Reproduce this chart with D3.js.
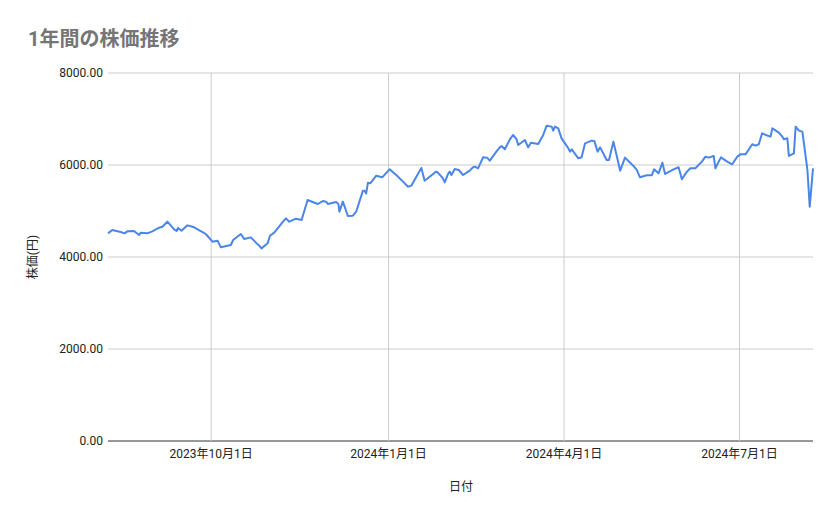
<!DOCTYPE html><html><head><meta charset="utf-8"><script src="https://cdn.jsdelivr.net/npm/d3@7"></script>
<style>body{margin:0;background:#fff}text{font-family:Roboto,"Noto Sans CJK JP",sans-serif}</style></head><body><svg id="c" width="839" height="519"></svg><script>
// days offset from 2023-10-01
const days=[-53.5,-51.3,-46.9,-44.9,-43.5,-40,-37.4,-36.5,-33.1,-30.5,-27,-25.3,-22.7,-19.2,-17.9,-17.2,-15.4,-12.3,-8.8,-4.5,-2.8,0.7,3.3,5,10.2,11.4,15.4,17.1,20.6,24.1,25.1,26.1,29.3,30.5,32.7,37.9,38.8,40.5,44,46.9,50,55.3,57.9,59.6,60.5,64.8,66,66.5,68.3,70.9,73.5,75.2,78.7,79.5,80.4,81.3,82.5,85.6,88.7,92.5,96,99.5,101.2,102,103.8,106.4,109,110.7,113.3,115.9,116.8,117.6,120.2,121.1,122.8,123.7,124.6,
126.3,128.4,130.6,134.1,135.8,136.7,138.4,141,143.1,144.5,147.9,149.7,150.6,152.3,154.9,156.6,158.4,159.2,162.7,164.4,165.8,169.6,172.2,174,176.6,177.4,178.3,180,181.7,183.5,185.2,186.1,187,190.4,192.1,193.9,197.3,198.7,200.4,201.7,205.1,206.3,208.6,212.1,214.6,219,220.7,222.4,225.9,228.5,229.7,232,234,235.4,239.8,242.4,244.1,246.7,248.5,251.1,254.5,256.3,258,260.6,261.5,263.2,264.4,267.6,270.2,272.8,274.5,277.1,280.6,282.3,284,285.7,287.5,290.1,291,294.4,296.2,297,298.8,299.6,302.2,303.1,304.8,306.6,309.2,310.4,312.1];
const prices=[4514,4587,4543,4514,4558,4565,4478,4529,4514,4558,4637,4659,4768,4601,4565,4630,4572,4688,4645,4543,4500,4333,4355,4210,4261,4369,4500,4391,4427,4275,4239,4188,4297,4463,4529,4804,4840,4768,4833,4804,5239,5152,5217,5203,5152,5196,5152,4985,5203,4891,4898,4985,5442,5442,5384,5616,5601,5768,5732,5906,5782,5638,5565,5529,5551,5746,5935,5659,5746,5833,5855,5833,5710,5623,5804,5855,5782,5913,
5892,5783,5877,5950,5964,5928,6167,6160,6094,6290,6384,6413,6341,6558,6653,6558,6435,6544,6384,6486,6457,6653,6855,6834,6747,6834,6797,6580,6471,6363,6290,6341,6145,6167,6471,6529,6522,6290,6384,6109,6109,6508,5877,6160,5979,5892,5732,5776,5776,5906,5819,6051,5805,5906,5950,5689,5855,5928,5928,6073,6181,6160,6196,5928,6073,6167,6073,6015,6181,6232,6232,6450,6421,6450,6689,6653,6616,6797,6703,6616,6558,6580,6196,6254,6834,6747,6725,5892,5094,5928,5928];
// zoom1 list has 2 extra entries at index 8/9 check: align lengths
const yTicks=[0,2000,4000,6000,8000];
const xTickDates=["2023-10-01","2024-01-01","2024-04-01","2024-07-01"];
const n=Math.min(days.length,prices.length);
const base=new Date(2023,9,1);
const data=d3.range(n).map(i=>({d:new Date(base.getTime()+days[i]*864e5),v:prices[i]}));
const svg=d3.select("#c");
const L=108,R=813,T=73,B=441;
const x=d3.scaleTime().domain([data[0].d,data[n-1].d]).range([L,R]);
const y=d3.scaleLinear().domain([0,8000]).range([B,T]);
const fmtD=s=>{const p=s.split("-");return `${+p[0]}年${+p[1]}月${+p[2]}日`;};
svg.append("g").selectAll("line").data(yTicks).join("line").attr("x1",L).attr("x2",R).attr("y1",d=>y(d)).attr("y2",d=>y(d)).attr("stroke",d=>d===0?"#333":"#ccc");
svg.append("g").selectAll("line").data(xTickDates).join("line").attr("x1",d=>x(new Date(d+"T00:00"))).attr("x2",d=>x(new Date(d+"T00:00"))).attr("y1",T).attr("y2",B).attr("stroke","#ccc");
svg.append("g").selectAll("text").data(yTicks).join("text").attr("x",103).attr("y",d=>y(d)+4).attr("text-anchor","end").attr("font-size",12).attr("fill","#222").text(d=>d.toFixed(2));
svg.append("g").selectAll("text").data(xTickDates).join("text").attr("x",d=>x(new Date(d+"T00:00"))).attr("y",458).attr("text-anchor","middle").attr("font-size",12).attr("fill","#222").text(fmtD);
svg.append("path").datum(data).attr("fill","none").attr("stroke","#4a86e8").attr("stroke-width",2).attr("stroke-linejoin","round").attr("d",d3.line().x(d=>x(d.d)).y(d=>y(d.v)));
svg.append("text").attr("x",28).attr("y",46).attr("font-size",20).attr("fill","#757575").attr("font-weight","bold").text("1年間の株価推移");
svg.append("text").attr("x",461).attr("y",491).attr("text-anchor","middle").attr("font-size",12).attr("fill","#222").text("日付");
svg.append("text").attr("transform","translate(37,257) rotate(-90)").attr("text-anchor","middle").attr("font-size",12).attr("fill","#222").text("株価(円)");
</script></body></html>
